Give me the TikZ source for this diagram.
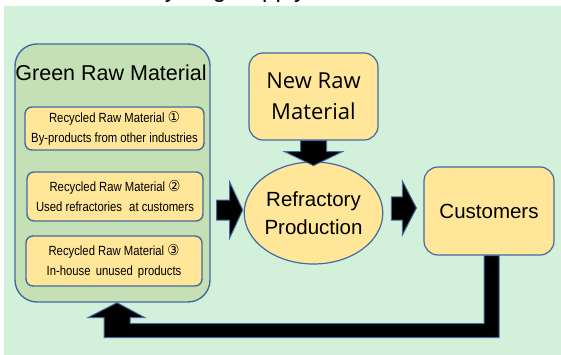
\documentclass[tikz,border=0pt]{standalone}
\usepackage{fontspec}
\setmainfont{Liberation Sans}
\newfontfamily\narrowfont{Liberation Sans}[FakeStretch=0.85]
\newfontfamily\circfont{DejaVu Sans}[FakeStretch=0.9]
\newfontfamily\roundfont{Open Sans}
\usetikzlibrary{shapes.geometric,calc}

\definecolor{bgmint}{RGB}{211,240,218}
\definecolor{leafgreen}{RGB}{197,224,180}
\definecolor{sandyellow}{RGB}{255,230,153}
\definecolor{edgeblue}{RGB}{68,106,162}

\newcommand{\circnum}[1]{{\circfont\fontsize{15}{15}\selectfont #1}}

\tikzset{
  groupbox/.style={draw=edgeblue, line width=1.4pt, fill=leafgreen, rounded corners=22pt,
    minimum width=195pt, minimum height=258pt, inner sep=0pt},
  subbox/.style={draw=edgeblue, line width=1.4pt, fill=sandyellow, rounded corners=7pt,
    inner sep=0pt, align=center, font=\narrowfont\fontsize{13.3}{20}\selectfont},
  mainbox/.style={draw=edgeblue, line width=1.2pt, fill=sandyellow, rounded corners=14pt,
    inner sep=0pt, align=center},
  blockarrow/.style={fill=black, draw=edgeblue, line width=1pt, line join=miter},
}

\begin{document}
\begin{tikzpicture}[x=1pt,y=-1pt]
\clip (0,0) rectangle (561,355);
\useasboundingbox (0,0) rectangle (561,355);
\fill[white] (0,0) rectangle (561,355);

% heading line, running off the top edge
\node[anchor=base west, inner sep=0pt, font=\fontsize{24}{24}\selectfont] (heading) at (122,-2.5) {Recycling Supply};

% panel background
\fill[bgmint] (4,6) rectangle (561,355);

% green raw material group
\node[groupbox] (green) at (112.5,173) {};
\node[font=\fontsize{21.5}{22}\selectfont, inner sep=0pt] (greentitle) at (111,73) {Green Raw Material};

\node[subbox, minimum width=179pt, minimum height=43pt] (rec1) at (114.5,128.5)
  {Recycled Raw Material \circnum{①}\\By-products from other industries};
\node[subbox, minimum width=176pt, minimum height=49pt] (rec2) at (115,196.5)
  {Recycled Raw Material \circnum{②}\\Used refractories\hspace{4pt} at customers};
\node[subbox, minimum width=176pt, minimum height=50pt] (rec3) at (114,261)
  {Recycled Raw Material \circnum{③}\\In-house\hspace{2pt} unused\hspace{2pt} products};

% new raw material
\node[mainbox, minimum width=129pt, minimum height=87pt,
  font=\roundfont\fontsize{22}{31}\selectfont] (nrm) at (313.5,96.5) {New Raw\\Material};

% refractory production
\node[ellipse, draw=edgeblue, line width=1.2pt, fill=sandyellow, inner sep=0pt,
  minimum width=131pt, minimum height=102pt, align=center,
  font=\fontsize{20.5}{28}\selectfont] (ref) at (313.5,213) {Refractory\\Production};

% customers
\node[mainbox, minimum width=130pt, minimum height=88pt,
  font=\fontsize{20.5}{24}\selectfont] (cust) at (489,211) {Customers};

% new raw material -> production
\filldraw[blockarrow] ($(nrm.south)+(-13,0)$) -- ++(0,11) -- ++(-16,0) -- ++(29,14)
  -- ++(29,-14) -- ++(-16,0) -- ++(0,-11) -- cycle;

% green raw material -> production
\filldraw[blockarrow] ($(green.east |- ref.west)+(6,-13)$) -- ++(13,0) -- ++(0,-18)
  -- ++(13,28) -- ++(-13,28) -- ++(0,-18) -- ++(-13,0) -- cycle;

% production -> customers
\filldraw[blockarrow] ($(ref.east)+(8,-16)$) -- ++(11,0) -- ++(0,-16) -- ++(14,27)
  -- ++(-14,27) -- ++(0,-15) -- ++(-11,0) -- cycle;

% customers -> green raw material (return loop)
\coordinate (fbtip) at ($(green.south)+(4.5,0)$);
\filldraw[blockarrow] ($(cust.south)+(-5,0)$) -- ++(15,0) -- ++(0,82) -- ++(-395,0)
  -- ++(0,-20) -- ++(-16,0) -- (fbtip) -- ++(28,15) -- ++(-15,0) -- ++(0,6)
  -- ++(354,0) -- cycle;
\end{tikzpicture}
\end{document}
